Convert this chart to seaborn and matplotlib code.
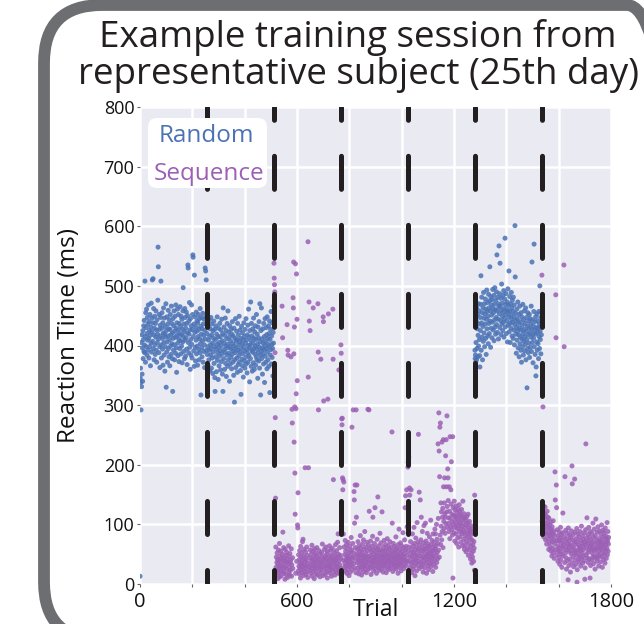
import numpy as np
import pandas as pd
import matplotlib
matplotlib.use("Agg")
import matplotlib.pyplot as plt
import seaborn as sns
from matplotlib.patches import FancyBboxPatch
from matplotlib.transforms import IdentityTransform

# ---------------- data (reaction times per trial, ms) ----------------
block_types = ["Random", "Random", "Sequence", "Sequence", "Sequence", "Random", "Sequence"]

block1 = [13, 345, 362, 338, 292, 405, 331, 418, 352, 396, 340, 425, 378, 410, 433, 390,
          442, 401, 388, 508, 415, 372, 455, 430, 398, 461, 420, 384, 447, 409, 436, 392,
          468, 412, 379, 440, 425, 398, 452, 417, 366, 431, 404, 471, 389, 423, 446, 510,
          407, 438, 512, 395, 462, 418, 376, 429, 449, 401, 385, 437, 414, 458, 392, 426,
          372, 443, 405, 419, 476, 565, 532, 411, 388, 452, 427, 398, 363, 434, 416, 447,
          508, 401, 379, 429, 455, 412, 394, 438, 367, 421, 463, 405, 384, 446, 419, 357,
          432, 398, 414, 470, 330, 425, 389, 448, 406, 372, 436, 416, 459, 395, 428, 381,
          443, 410, 366, 427, 452, 399, 418, 385, 466, 437, 403, 378, 421, 323, 445, 412,
          392, 433, 458, 401, 376, 424, 449, 414, 387, 468, 429, 396, 355, 438, 417, 461,
          404, 383, 426, 452, 411, 373, 437, 420, 395, 465, 408, 432, 386, 449, 418, 399,
          444, 371, 427, 406, 458, 497, 415, 390, 436, 423, 378, 462, 409, 447, 382, 429,
          413, 456, 394, 437, 368, 421, 450, 535, 530, 405, 388, 441, 419, 472, 397, 426,
          360, 445, 410, 384, 433, 468, 402, 379, 427, 452, 552, 548, 415, 391, 436, 365,
          518, 422, 448, 397, 374, 431, 409, 456, 386, 424, 441, 399, 367, 438, 415, 452,
          393, 427, 376, 445, 411, 388, 462, 403, 432, 317, 419, 447, 396, 381, 428, 408,
          454, 372, 436, 417, 390, 444, 401, 363, 425, 530, 411, 525, 448, 510, 392, 435]

block2 = [420, 385, 452, 398, 367, 431, 409, 376, 443, 392, 415, 358, 428, 401, 384, 447,
          395, 362, 418, 436, 379, 404, 353, 425, 389, 412, 441, 370, 398, 427, 346, 323,
          410, 381, 433, 394, 356, 419, 402, 448, 375, 388, 414, 343, 429, 397, 366, 405,
          382, 437, 391, 415, 359, 426, 400, 373, 444, 386, 408, 352, 420, 323, 463, 393,
          378, 431, 404, 360, 417, 389, 446, 370, 399, 425, 348, 411, 384, 437, 396, 365,
          458, 402, 376, 422, 387, 414, 340, 433, 398, 369, 408, 380, 427, 394, 361, 419,
          385, 440, 403, 372, 416, 391, 350, 429, 399, 305, 376, 412, 388, 445, 363, 407,
          396, 424, 379, 410, 355, 437, 392, 368, 418, 401, 383, 449, 372, 406, 389, 426,
          358, 412, 318, 395, 432, 377, 403, 366, 421, 386, 410, 347, 398, 438, 374, 415,
          391, 362, 427, 404, 380, 445, 369, 409, 393, 354, 418, 387, 434, 372, 400, 461,
          383, 414, 396, 339, 425, 401, 378, 473, 408, 365, 437, 392, 416, 357, 389, 428,
          404, 371, 446, 395, 412, 360, 423, 386, 399, 433, 367, 410, 381, 452, 394, 376,
          419, 402, 345, 431, 388, 413, 374, 440, 397, 362, 470, 406, 383, 317, 425, 391,
          463, 378, 411, 396, 352, 428, 386, 404, 369, 437, 393, 415, 338, 400, 445, 382,
          407, 372, 430, 395, 418, 361, 448, 389, 412, 376, 402, 433, 365, 420, 398, 441,
          321, 410, 384, 427, 393, 457, 369, 416, 402, 380, 438, 395, 349, 422, 404, 466]

block3 = [538, 513, 502, 490, 388, 279, 144, 62, 28, 45, 17, 36, 52, 24, 41, 9,
          33, 57, 19, 40, 26, 68, 12, 47, 31, 22, 55, 38, 14, 43, 29, 466,
          50, 413, 87, 21, 35, 61, 18, 44, 27, 39, 8, 58, 30, 48, 16, 37,
          25, 53, 435, 42, 11, 392, 384, 34, 64, 20, 46, 28, 15, 51, 36, 23,
          40, 381, 59, 13, 32, 293, 270, 44, 26, 480, 463, 540, 386, 238, 431, 297,
          186, 117, 537, 18, 294, 319, 520, 38, 444, 341, 99, 94, 153, 22, 49, 30,
          17, 41, 56, 27, 35, 10, 63, 45, 24, 33, 52, 19, 39, 71, 29, 75,
          14, 47, 31, 58, 22, 43, 37, 195, 26, 54, 16, 40, 30, 62, 20, 48,
          35, 11, 574, 347, 195, 28, 473, 441, 44, 23, 425, 57, 33, 18, 50, 39,
          26, 65, 13, 42, 31, 55, 463, 21, 46, 36, 9, 59, 29, 40, 24, 52,
          34, 17, 48, 27, 61, 38, 15, 44, 470, 389, 292, 30, 56, 22, 41, 33,
          12, 50, 26, 377, 37, 19, 53, 45, 28, 67, 35, 14, 448, 440, 307, 42,
          24, 58, 31, 47, 16, 39, 62, 27, 43, 20, 51, 34, 10, 55, 310, 30,
          453, 38, 22, 46, 64, 29, 41, 18, 57, 33, 25, 49, 13, 44, 36, 60,
          27, 461, 377, 175, 40, 21, 53, 32, 47, 15, 38, 66, 24, 42, 30, 56,
          19, 45, 35, 70, 28, 84, 50, 23, 359, 39, 17, 61, 32, 48, 26, 43]

block4 = [401, 387, 362, 277, 267, 278, 178, 158, 175, 84, 40, 171, 62, 28, 49, 35,
          73, 22, 55, 41, 30, 66, 18, 47, 38, 59, 25, 44, 70, 33, 51, 14,
          42, 29, 63, 37, 20, 54, 46, 78, 31, 57, 263, 39, 24, 68, 45, 292,
          34, 52, 155, 141, 102, 27, 166, 61, 43, 19, 292, 112, 50, 166, 36, 58,
          26, 71, 40, 48, 17, 64, 32, 55, 44, 23, 81, 37, 60, 29, 49, 15,
          53, 39, 67, 28, 45, 34, 74, 21, 58, 42, 31, 88, 47, 25, 62, 36,
          51, 19, 43, 70, 30, 56, 38, 293, 24, 65, 46, 292, 122, 33, 59, 41,
          27, 72, 48, 16, 54, 37, 63, 29, 44, 80, 112, 35, 57, 22, 50, 40,
          68, 31, 128, 45, 26, 61, 39, 53, 18, 47, 75, 34, 58, 146, 42, 28,
          64, 36, 52, 23, 46, 85, 30, 57, 41, 69, 25, 49, 38, 121, 55, 33,
          44, 20, 62, 47, 31, 73, 39, 56, 27, 50, 35, 66, 43, 19, 59, 37,
          48, 76, 29, 53, 40, 24, 64, 45, 33, 58, 38, 71, 26, 51, 42, 30,
          61, 47, 36, 255, 102, 55, 21, 44, 68, 34, 52, 39, 27, 63, 46, 32,
          57, 41, 79, 25, 49, 37, 60, 30, 54, 43, 18, 66, 48, 35, 92, 40,
          28, 58, 45, 33, 69, 51, 22, 42, 64, 37, 55, 30, 47, 86, 39, 61,
          26, 50, 43, 74, 34, 128, 57, 148, 40, 63, 31, 158, 48, 96, 38, 55]

block5 = [196, 204, 228, 213, 62, 38, 161, 149, 45, 27, 71, 52, 158, 33, 58, 19,
          46, 84, 37, 64, 25, 53, 41, 95, 30, 68, 49, 14, 57, 40, 77, 35,
          62, 22, 48, 103, 44, 31, 70, 55, 251, 38, 59, 154, 26, 66, 47, 141,
          36, 74, 52, 112, 29, 61, 43, 88, 33, 56, 20, 69, 45, 98, 39, 58,
          27, 64, 50, 102, 35, 72, 46, 18, 60, 41, 85, 54, 31, 67, 48, 24,
          63, 40, 79, 52, 34, 58, 45, 107, 29, 66, 50, 37, 73, 43, 56, 21,
          84, 47, 62, 33, 70, 55, 40, 92, 59, 84, 28, 64, 48, 100, 36, 75,
          53, 42, 68, 235, 110, 57, 287, 223, 45, 180, 263, 82, 270, 66, 136, 97,
          121, 74, 238, 88, 112, 127, 61, 242, 163, 105, 93, 136, 178, 118, 85, 112,
          215, 101, 242, 163, 121, 282, 130, 95, 193, 178, 140, 111, 102, 88, 163, 122,
          76, 247, 110, 96, 158, 134, 205, 91, 117, 104, 82, 247, 10, 128, 99, 115,
          86, 139, 107, 72, 124, 95, 113, 131, 84, 102, 68, 120, 93, 110, 77, 126,
          98, 114, 62, 105, 133, 88, 121, 79, 100, 92, 116, 70, 108, 125, 84, 97,
          112, 64, 139, 90, 103, 75, 118, 86, 58, 111, 66, 95, 81, 107, 54, 99,
          72, 113, 88, 60, 102, 79, 117, 48, 94, 68, 85, 105, 57, 90, 76, 42,
          98, 63, 83, 51, 35, 74, 92, 45, 66, 87, 55, 38, 71, 60, 23, 149]

block6 = [392, 378, 384, 372, 405, 441, 376, 463, 395, 428, 452, 381, 417, 470, 399, 436,
          458, 410, 383, 364, 447, 425, 469, 517, 392, 438, 481, 414, 455, 376, 432, 463,
          407, 489, 446, 421, 470, 398, 453, 436, 478, 412, 461, 385, 444, 493, 428, 457,
          472, 416, 449, 403, 486, 437, 463, 420, 475, 532, 441, 458, 397, 482, 429, 468,
          451, 413, 477, 439, 494, 462, 426, 455, 484, 408, 469, 443, 497, 431, 460, 419,
          476, 447, 490, 435, 552, 458, 422, 481, 444, 470, 411, 465, 567, 453, 487, 430,
          538, 466, 442, 479, 418, 459, 503, 436, 471, 449, 425, 484, 456, 439, 492, 414,
          462, 445, 478, 580, 431, 469, 452, 487, 420, 460, 441, 473, 406, 456, 495, 434,
          467, 448, 525, 423, 458, 482, 437, 405, 470, 451, 429, 489, 444, 463, 416, 476,
          439, 457, 412, 481, 426, 448, 468, 401, 435, 601, 515, 454, 419, 442, 387, 430,
          461, 409, 445, 424, 473, 396, 437, 418, 452, 381, 429, 466, 403, 440, 414, 392,
          455, 426, 372, 448, 411, 434, 398, 469, 420, 384, 443, 407, 427, 458, 391, 415,
          437, 402, 463, 376, 424, 447, 410, 329, 432, 395, 455, 418, 388, 441, 404, 429,
          452, 380, 421, 445, 397, 436, 414, 466, 390, 427, 540, 405, 443, 419, 371, 433,
          412, 457, 570, 398, 426, 440, 385, 419, 448, 349, 364, 430, 406, 453, 392, 422,
          441, 403, 429, 378, 457, 415, 436, 395, 500, 424, 410, 447, 386, 432, 418, 455]

block7 = [518, 105, 88, 124, 297, 96, 131, 79, 112, 93, 118, 85, 129, 101, 74, 115,
          90, 108, 67, 97, 122, 83, 102, 112, 76, 94, 58, 110, 86, 70, 99, 81,
          63, 92, 104, 55, 78, 88, 47, 96, 71, 84, 60, 106, 52, 75, 89, 43,
          68, 82, 188, 141, 57, 485, 413, 166, 128, 73, 49, 91, 64, 38, 80, 56,
          72, 45, 87, 61, 33, 77, 54, 95, 40, 69, 83, 50, 28, 74, 62, 86,
          119, 47, 66, 58, 535, 398, 79, 36, 180, 71, 52, 90, 44, 63, 25, 76,
          57, 85, 39, 68, 7, 94, 60, 31, 73, 55, 82, 42, 66, 20, 78, 51,
          64, 89, 35, 198, 168, 58, 74, 46, 83, 29, 61, 70, 52, 176, 40, 87,
          55, 67, 33, 76, 48, 93, 3, 24, 71, 57, 84, 41, 65, 50, 79, 37,
          62, 45, 88, 56, 30, 73, 59, 97, 43, 68, 52, 81, 35, 64, 47, 75,
          58, 86, 39, 70, 8, 27, 66, 91, 235, 49, 77, 61, 111, 44, 72, 83,
          53, 36, 68, 95, 57, 42, 79, 63, 10, 88, 31, 74, 59, 66, 40, 85,
          52, 70, 45, 102, 61, 34, 78, 56, 92, 47, 67, 25, 81, 58, 109, 43,
          73, 60, 38, 87, 51, 69, 96, 44, 64, 30, 76, 55, 89, 48, 71, 62,
          37, 83, 58, 68, 99, 46, 74, 28, 65, 90, 53, 79, 41, 61, 86, 50,
          70, 35, 94, 57, 66, 80, 43, 75, 60, 103, 49, 72, 88, 55, 67, 78]

blocks = [block1, block2, block3, block4, block5, block6, block7]
block_boundaries = [256, 512, 768, 1024, 1280, 1536]
x_ticks = [0, 200, 400, 600, 800, 1000, 1200, 1400, 1600, 1800]
x_tick_labels = ["0", "", "", "600", "", "", "1200", "", "", "1800"]
y_ticks = [0, 100, 200, 300, 400, 500, 600, 700, 800]
condition_colors = {"Random": "#4a72b5", "Sequence": "#9c5fb5"}
title_text = "Example training session from\nrepresentative subject (25th day)"

# ---------------- build table ----------------
rts, conds = [], []
for vals, kind in zip(blocks, block_types):
    rts.extend(vals)
    conds.extend([kind] * len(vals))
df = pd.DataFrame({"Trial": np.arange(len(rts)), "RT": rts, "Condition": conds})

# ---------------- style ----------------
sns.set_theme(style="darkgrid", rc={
    "axes.facecolor": "#eaeaf2",
    "grid.color": "white",
    "grid.linewidth": 1.8,
    "xtick.bottom": True,
    "ytick.left": True,
    "xtick.major.size": 2.5,
    "ytick.major.size": 2.5,
    "xtick.major.width": 0.8,
    "ytick.major.width": 0.8,
    "xtick.color": "#666666",
    "ytick.color": "#666666",
})
plt.rcParams["font.family"] = ["Open Sans", "DejaVu Sans"]
plt.rcParams["lines.scale_dashes"] = False

W, H = 644, 624
fig = plt.figure(figsize=(W / 100, H / 100), dpi=100)
fig.patch.set_facecolor("white")
ax = fig.add_axes([140 / W, 40 / H, 471 / W, 477 / H])

sns.scatterplot(data=df, x="Trial", y="RT", hue="Condition", palette=condition_colors,
                s=13, linewidth=0, alpha=0.85, legend=False, ax=ax, zorder=2)

for b in block_boundaries:
    ax.axvline(b, color="#231f20", lw=3.6, linestyle=(13.7, (23.8, 25.9)),
               dash_capstyle="round", zorder=3)

ax.set_xlim(0, 1800)
ax.set_ylim(0, 800)
ax.set_xticks(x_ticks)
ax.set_xticklabels(x_tick_labels)
ax.set_yticks(y_ticks)
ax.tick_params(axis="x", labelsize=14.5, pad=3, labelcolor="#111111")
ax.tick_params(axis="y", labelsize=13, pad=1.5, labelcolor="#111111")
for s in ax.spines.values():
    s.set_visible(False)

ax.set_xlabel("Trial", fontsize=16.5, color="#111111")
ax.set_ylabel("Reaction Time (ms)", fontsize=17.5, color="#111111")
ax.xaxis.set_label_coords(0.5, -0.03)
ax.yaxis.set_label_coords(-0.125, 0.52)

# legend box with coloured labels
legend_box = FancyBboxPatch((148, H - 188), 119, 70,
                            boxstyle="round,pad=0,rounding_size=9",
                            transform=IdentityTransform(), facecolor="white",
                            edgecolor="none", zorder=5)
fig.add_artist(legend_box)
fig.text(206 / W, 1 - 141.5 / H, "Random", color=condition_colors["Random"],
         fontsize=17.5, ha="center", va="baseline", zorder=6)
fig.text(209 / W, 1 - 180 / H, "Sequence", color=condition_colors["Sequence"],
         fontsize=17.5, ha="center", va="baseline", zorder=6)

# title
fig.text(358 / W, 1 - 56 / H, title_text, fontsize=26.5, ha="center", va="center",
         color="#231f20", linespacing=1.05)

# rounded grey frame
frame = FancyBboxPatch((44, -16), 685 - 44, H - 5 + 16,
                       boxstyle="round,pad=0,rounding_size=58",
                       transform=IdentityTransform(), facecolor="none",
                       edgecolor="#6d6e71", linewidth=8.5, zorder=1)
fig.add_artist(frame)

fig.savefig("out.png", dpi=100, facecolor="white")
